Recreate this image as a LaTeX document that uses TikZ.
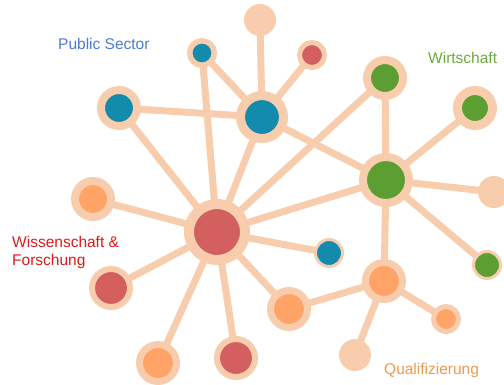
\documentclass[tikz,border=0pt]{standalone}
\usepackage{fontspec}
\setmainfont{Liberation Sans}
\usetikzlibrary{backgrounds}
\definecolor{peach}{HTML}{F8CDAD}
\definecolor{cblue}{HTML}{138BAD}
\definecolor{cred}{HTML}{D45F5F}
\definecolor{cgreen}{HTML}{5C9E31}
\definecolor{corange}{HTML}{FFA366}
\definecolor{tblue}{HTML}{4A7BD5}
\definecolor{tgreen}{HTML}{6AAB3F}
\definecolor{tred}{HTML}{D91B1B}
\definecolor{torange}{HTML}{EE9A4A}
\tikzset{
  ring/.style n args={3}{circle, inner sep=0pt, outer sep=0pt, fill=#3, draw=peach, minimum size=#1pt, line width=#2pt},
  plain/.style={circle, inner sep=0pt, outer sep=0pt, fill=peach, minimum size=32pt},
  link/.style={draw=peach, line width=7pt},
  lbl/.style={anchor=base west, inner sep=0pt, font=\fontsize{15.5}{18}\selectfont, align=left}
}
\begin{document}
\begin{tikzpicture}[x=1pt,y=-1pt]
\useasboundingbox (0,0) rectangle (504,384);
\node[plain] (T) at (260,20) {};
\node[ring={24.5}{5.5}{cblue}] (B1) at (202,53) {};
\node[ring={25}{5}{cred}] (R1) at (312,55) {};
\node[ring={36}{8}{cblue}] (B2) at (119,108) {};
\node[ring={43}{9}{cblue}] (B3) at (262,117) {};
\node[ring={36}{8}{cgreen}] (G1) at (385,78) {};
\node[ring={35}{9}{cgreen}] (G2) at (475,108) {};
\node[ring={46}{8}{cgreen}] (G3) at (386,180) {};
\node[plain] (P2) at (494,192) {};
\node[ring={36}{8}{corange}] (O1) at (93,199) {};
\node[ring={56}{10}{cred}] (R0) at (217,232) {};
\node[ring={27}{3}{cblue}] (B4) at (329,253) {};
\node[ring={27}{3}{cgreen}] (G4) at (487,265) {};
\node[ring={38}{6}{cred}] (R2) at (111,288) {};
\node[ring={37}{7}{corange}] (O2) at (384,281) {};
\node[ring={25}{5}{corange}] (O3) at (446,319) {};
\node[ring={37}{7}{corange}] (O4) at (289,309) {};
\node[plain] (P3) at (355,355) {};
\node[ring={37}{7}{corange}] (O5) at (158,363) {};
\node[ring={38}{6}{cred}] (R3) at (236,358) {};
\begin{scope}[on background layer]
\draw[link] (T.center) -- (B3.center);
\draw[link] (B1.center) -- (B3.center);
\draw[link] (R1.center) -- (B3.center);
\draw[link] (B2.center) -- (B3.center);
\draw[link] (B1.center) -- (R0.center);
\draw[link] (B2.center) -- (R0.center);
\draw[link] (B3.center) -- (R0.center);
\draw[link] (B3.center) -- (G3.center);
\draw[link] (G1.center) -- (R0.center);
\draw[link] (G1.center) -- (G3.center);
\draw[link] (G2.center) -- (G3.center);
\draw[link] (G3.center) -- (P2.center);
\draw[link] (G3.center) -- (R0.center);
\draw[link] (G3.center) -- (G4.center);
\draw[link] (G3.center) -- (O2.center);
\draw[link] (O1.center) -- (R0.center);
\draw[link] (R0.center) -- (B4.center);
\draw[link] (R0.center) -- (R2.center);
\draw[link] (R0.center) -- (O5.center);
\draw[link] (R0.center) -- (R3.center);
\draw[link] (R0.center) -- (O4.center);
\draw[link] (O4.center) -- (O2.center);
\draw[link] (O2.center) -- (O3.center);
\draw[link] (O2.center) -- (P3.center);
\end{scope}
\node[lbl, text=tblue] (lps) at (58,49) {Public Sector};
\node[lbl, text=tgreen] (lw) at (428,63) {Wirtschaft};
\node[lbl, text=tred] (lwf) at (12,265) {Wissenschaft \&\\Forschung};
\node[lbl, text=torange] (lq) at (384,374) {Qualifizierung};
\end{tikzpicture}
\end{document}
